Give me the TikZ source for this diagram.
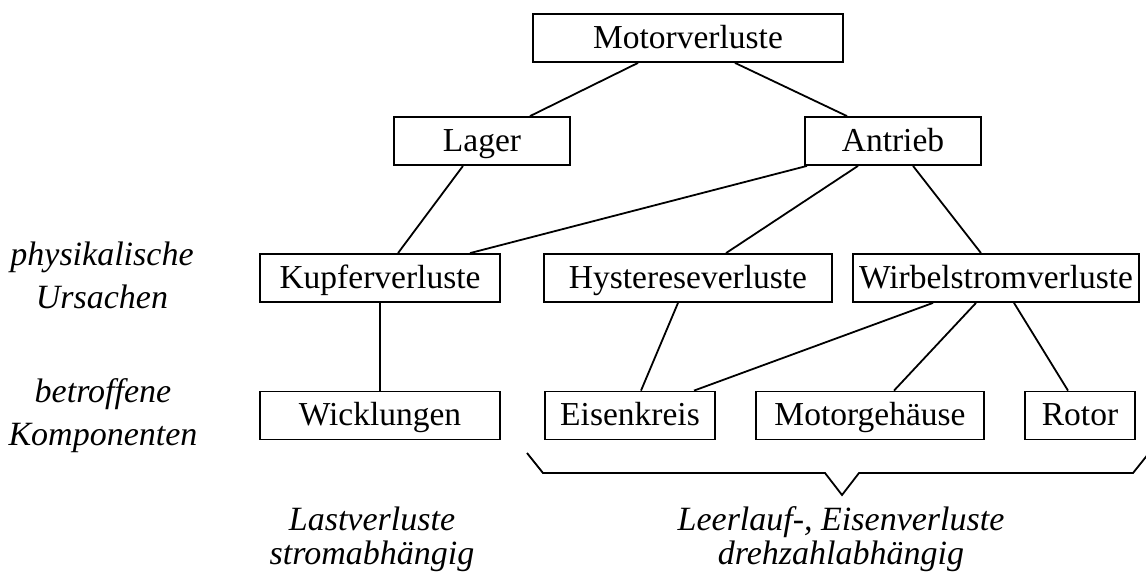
\documentclass[tikz,border=0pt]{standalone}
\usepackage{fontspec}
\setmainfont{Liberation Serif}
\begin{document}
\begin{tikzpicture}[x=1pt,y=-1pt,
  box/.style={draw, line width=1.8pt, inner sep=0pt, minimum height=48pt,
    text height=24pt, text depth=4pt, font=\fontsize{33.5}{40}\selectfont},
  link/.style={line width=1.8pt},
  side/.style={align=center, inner sep=0pt, font=\fontsize{34}{43}\selectfont\itshape},
  group/.style={align=center, inner sep=0pt, font=\fontsize{34}{34}\selectfont\itshape}]
\useasboundingbox (0,0) rectangle (1146,571);

% tree of loss types
\node[box, minimum width=310pt] (mv) at (688,38) {Motorverluste};
\node[box, minimum width=176pt] (lager) at (482,141) {Lager};
\node[box, minimum width=176pt] (antrieb) at (893,141) {Antrieb};
\node[box, minimum width=240pt] (kupfer) at (380,278) {Kupferverluste};
\node[box, minimum width=288pt] (hyst) at (688,278) {Hystereseverluste};
\node[box, minimum width=286pt] (wirbel) at (996,278) {Wirbelstromverluste};
\node[box, minimum width=240pt] (wickl) at (380,415.5) {Wicklungen};
\node[box, minimum width=170pt] (eisen) at (630,415.5) {Eisenkreis};
\node[box, minimum width=228pt] (motorg) at (870,415.5) {Motorgehäuse};
\node[box, minimum width=110pt] (rotor) at (1080,415.5) {Rotor};

% connectors
\draw[link] ([xshift=-50pt]mv.south) -- ([xshift=48pt]lager.north);
\draw[link] ([xshift=47pt]mv.south) -- ([xshift=-46pt]antrieb.north);
\draw[link] ([xshift=-19pt]lager.south) -- ([xshift=18pt]kupfer.north);
\draw[link] ([xshift=-86pt]antrieb.south) -- ([xshift=90pt]kupfer.north);
\draw[link] ([xshift=-35pt]antrieb.south) -- ([xshift=38pt]hyst.north);
\draw[link] ([xshift=20pt]antrieb.south) -- ([xshift=-15pt]wirbel.north);
\draw[link] (kupfer.south) -- (wickl.north);
\draw[link] ([xshift=-10pt]hyst.south) -- ([xshift=11pt]eisen.north);
\draw[link] ([xshift=-63pt]wirbel.south) -- ([xshift=64pt]eisen.north);
\draw[link] ([xshift=-20pt]wirbel.south) -- ([xshift=24pt]motorg.north);
\draw[link] ([xshift=18pt]wirbel.south) -- ([xshift=-12pt]rotor.north);

% brace under the no-load components
\draw[link] (527,453) -- (543,473) -- (825,473) -- (842,495) -- (859,473)
  -- (1133,473) -- (1149,453);

% row and group captions
\node[side] (ursachen) at (102,275) {physikalische\\Ursachen};
\node[side] (komponenten) at (103,416) {betroffene\\Komponenten};
\node[group] (last) at (372,539) {Lastverluste\\stromabhängig};
\node[group] (leerlauf) at (841,539) {Leerlauf-, Eisenverluste\\drehzahlabhängig};
\end{tikzpicture}
\end{document}
